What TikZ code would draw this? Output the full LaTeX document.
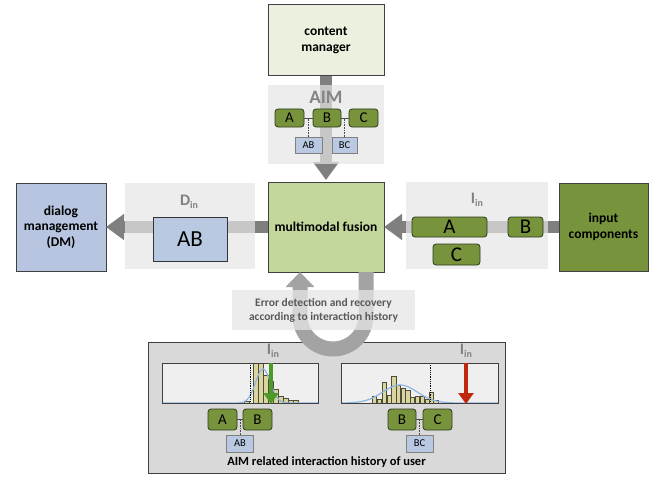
\documentclass[tikz,border=0pt]{standalone}
\usepackage{fontspec}
\setmainfont{Carlito}
\usetikzlibrary{arrows.meta}
\definecolor{cmfill}{HTML}{EBF1DE}
\definecolor{fusfill}{HTML}{C3D69B}
\definecolor{olivefill}{HTML}{77933C}
\definecolor{dmfill}{HTML}{B7C5E0}
\definecolor{tokline}{HTML}{2F3A1A}
\definecolor{pairfill}{HTML}{B9C9E2}
\definecolor{panelgray}{HTML}{E6E6E6}
\definecolor{arrowgray}{HTML}{7F7F7F}
\definecolor{loopgray}{HTML}{A3A3A3}
\definecolor{labelgray}{HTML}{808080}
\definecolor{aimgray}{HTML}{858585}
\definecolor{textgray}{HTML}{595959}
\definecolor{histfill}{HTML}{EFEFEF}
\definecolor{histpanel}{HTML}{D9D9D9}
\definecolor{barfill}{HTML}{DAD59E}
\definecolor{barline}{HTML}{4D4D3A}
\definecolor{curveblue}{HTML}{8EB4E3}
\definecolor{okgreen}{HTML}{4E9A28}
\definecolor{badred}{HTML}{C0280E}
\newcommand{\sub}[1]{{\fontsize{10}{10}\selectfont\raisebox{-3pt}{#1}}}
\begin{document}
\begin{tikzpicture}[x=1pt,y=-1pt,
  bigbox/.style={draw=black!75, line width=1pt, inner sep=0pt, outer sep=0pt,
    align=center, font=\fontsize{13.5}{15.5}\selectfont\bfseries},
  panel/.style={fill=panelgray, fill opacity=0.7, text opacity=1, inner sep=0pt, outer sep=0pt},
  tok/.style={draw=tokline, fill=olivefill, rounded corners=3pt, line width=0.8pt,
    inner sep=0pt, outer sep=0pt},
  pairbox/.style={draw=black!50, fill=pairfill, line width=0.6pt, inner sep=0pt, outer sep=0pt,
    font=\fontsize{10.5}{11}\selectfont},
  flow/.style={draw=arrowgray, line width=12pt, -{Triangle[length=18pt,width=25pt]}},
  loopflow/.style={draw=loopgray, line width=15pt, -{Triangle[length=15pt,width=28pt]}},
  plabel/.style={text=labelgray, font=\fontsize{16}{16}\selectfont\bfseries, inner sep=0pt},
  histbox/.style={draw=black!75, fill=histfill, line width=0.8pt, inner sep=0pt, outer sep=0pt,
    minimum height=40pt},
  bar/.style={draw=barline, fill=barfill, line width=0.4pt},
  curve/.style={draw=curveblue, line width=1.2pt},
  marker/.style={line width=4pt, -{Triangle[length=11pt,width=15pt]}}
]
\path[use as bounding box] (0,0) rectangle (655,476);

% main boxes
\node[bigbox, fill=cmfill, minimum width=116pt, minimum height=71pt] (cm) at (326,40.5) {content\\manager};
\node[bigbox, fill=fusfill, minimum width=116pt, minimum height=90pt] (fus) at (326,227) {multimodal fusion};
\node[bigbox, fill=dmfill, minimum width=90pt, minimum height=88pt] (dm) at (61,227) {dialog\\management\\(DM)};
\node[bigbox, fill=olivefill, minimum width=89pt, minimum height=88pt] (ic) at (603.5,227) {input\\components};

% history panel at the bottom
\node[draw=black!75, line width=1pt, fill=histpanel, minimum width=357pt, minimum height=131pt,
  inner sep=0pt, outer sep=0pt] (hist) at (326.5,407.5) {};
\node[font=\fontsize{12.5}{13}\selectfont\bfseries, inner sep=0pt] (histtitle) at (326.5,462) {AIM related interaction history of user};

% flows between components
\draw[flow] (cm.south) -- ([yshift=2pt]fus.north);
\draw[flow] (fus.west) -- (dm.east);
\draw[flow] (ic.west) -- (fus.east);
\draw[loopflow] ([xshift=40pt]fus.south) -- ++(0,44) arc[start angle=0, end angle=-180, radius=33pt]
  -- ([xshift=-26pt]fus.south);

% AIM panel
\node[panel, minimum width=116pt, minimum height=79pt] (aimp) at (326,124.5) {};
\node[text=aimgray, font=\fontsize{19}{19}\selectfont\bfseries, inner sep=0pt] (aiml) at (326,97) {AIM};
\node[tok, minimum width=29pt, minimum height=18pt, font=\fontsize{15}{15}\selectfont] (ta) at (289.5,118) {A};
\node[tok, minimum width=28pt, minimum height=18pt, font=\fontsize{15}{15}\selectfont] (tb) at (327,118) {B};
\node[tok, minimum width=29pt, minimum height=18pt, font=\fontsize{15}{15}\selectfont] (tc) at (363.5,118) {C};
\draw[black!70, line width=0.6pt] (ta.east) -- (tb.west) (tb.east) -- (tc.west);
\node[pairbox, minimum width=27pt, minimum height=16pt] (tab) at (308.5,145) {AB};
\node[pairbox, minimum width=25pt, minimum height=16pt] (tbc) at (344.5,145) {BC};
\draw[black!70, densely dotted, line width=0.6pt] (tab.north) -- (tab.north |- ta.east);
\draw[black!70, densely dotted, line width=0.6pt] (tbc.north) -- (tbc.north |- tb.east);

% D_in panel
\node[panel, minimum width=130pt, minimum height=86pt] (dinp) at (190,226) {};
\node[plabel] (dinl) at (189,202) {D\sub{in}};
\node[draw=black!80, fill=pairfill, line width=0.8pt, minimum width=74pt, minimum height=44pt,
  inner sep=0pt, font=\fontsize{23}{23}\selectfont] (dab) at (190,239) {AB};

% I_in panel
\node[panel, minimum width=142pt, minimum height=87pt] (iinp) at (477,225.5) {};
\node[plabel] (iinl) at (477,200) {I\sub{in}};
\node[tok, minimum width=75pt, minimum height=20pt, font=\fontsize{21}{21}\selectfont] (ia) at (449.5,227) {A};
\node[tok, minimum width=35pt, minimum height=20pt, font=\fontsize{21}{21}\selectfont] (ib) at (525.5,227) {B};
\node[tok, minimum width=47pt, minimum height=21pt, font=\fontsize{21}{21}\selectfont] (ic2) at (456.5,254.5) {C};

% error handling note over the loop
\node[fill=panelgray, fill opacity=0.75, text opacity=1, minimum width=183pt, minimum height=40pt,
  inner sep=0pt, align=center, text=textgray, font=\fontsize{11.5}{14}\selectfont\bfseries] (err) at (323.5,310)
  {Error detection and recovery\\according to interaction history};

% left histogram
\node[histbox, minimum width=156pt] (hl) at (240,383) {};
\begin{scope}
\clip (162,363) rectangle (318,403);
\foreach \bx/\bh in {244/2, 253/42, 258/42, 263/28, 268/22, 273/14, 278/7, 283/5, 288/3, 293/3}
  \draw[bar] (\bx,403) rectangle ++(4.8,-\bh);
\draw[curve] plot[domain=162:318, samples=120] (\x, {403-34*exp(-((\x-263)^2)/(2*55))});
\end{scope}
\draw[black, densely dotted, line width=0.8pt] (250,363) -- (250,403);
\draw[black!75, line width=0.8pt] (162,363) rectangle (318,403);
\draw[marker, okgreen] ([xshift=31pt]hl.north) -- ([xshift=31pt,yshift=-1pt]hl.south);
\node[plabel] (hll) at (273,351) {I\sub{in}};

% right histogram
\node[histbox, minimum width=157pt] (hr) at (419.5,383) {};
\begin{scope}
\clip (341,363) rectangle (498,403);
\foreach \bx/\bh in {372/7, 377/4, 382/21, 387/8, 391.5/27, 396/18, 401/15, 405.5/13, 410/6, 415/7, 420/7, 425/4, 429/11, 433.5/3, 443/1}
  \draw[bar] (\bx,403) rectangle ++(4.6,-\bh);
\draw[curve] plot[domain=341:498, samples=120] (\x, {403-18*exp(-((\x-400)^2)/(2*300))});
\end{scope}
\draw[black, densely dotted, line width=0.8pt] (430,363) -- (430,403);
\draw[black!75, line width=0.8pt] (341,363) rectangle (498,403);
\draw[marker, badred] ([xshift=46.5pt]hr.north) -- ([xshift=46.5pt,yshift=-1pt]hr.south);
\node[plabel] (hrl) at (466,351) {I\sub{in}};

% AB pair under the left histogram
\node[tok, minimum width=29pt, minimum height=21pt, font=\fontsize{15}{15}\selectfont] (la) at (222.5,419.5) {A};
\node[tok, minimum width=29pt, minimum height=21pt, font=\fontsize{15}{15}\selectfont] (lb) at (257.5,419.5) {B};
\draw[black!70, line width=0.6pt] (la.east) -- (lb.west);
\node[pairbox, minimum width=27pt, minimum height=17pt] (lab) at (240,443.5) {AB};
\draw[black!70, densely dotted, line width=0.6pt] (lab.north) -- (lab.north |- la.east);

% BC pair under the right histogram
\node[tok, minimum width=28pt, minimum height=21pt, font=\fontsize{15}{15}\selectfont] (rb) at (402,419.5) {B};
\node[tok, minimum width=29pt, minimum height=21pt, font=\fontsize{15}{15}\selectfont] (rc) at (437.5,419.5) {C};
\draw[black!70, line width=0.6pt] (rb.east) -- (rc.west);
\node[pairbox, minimum width=27pt, minimum height=17pt] (rbc) at (419.5,443.5) {BC};
\draw[black!70, densely dotted, line width=0.6pt] (rbc.north) -- (rbc.north |- rb.east);
\end{tikzpicture}
\end{document}
